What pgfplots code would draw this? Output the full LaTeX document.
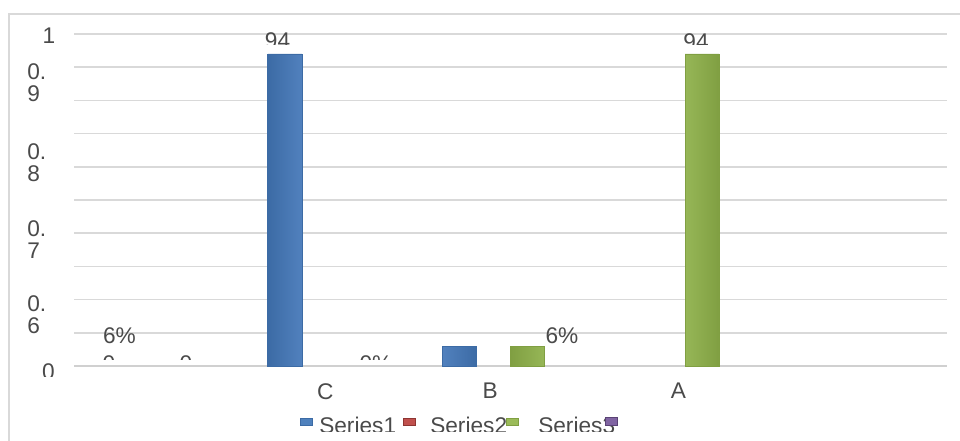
\documentclass[border=0pt]{standalone}
\usepackage{pgfplots}
\pgfplotsset{compat=1.18}
\usepackage{fontspec}
\setmainfont{Liberation Sans}
\definecolor{txt}{HTML}{4A4A4A}
\definecolor{gridc}{HTML}{D9D9D9}
\definecolor{axc}{HTML}{D0D0D0}
\definecolor{sA}{HTML}{4F81BD}
\definecolor{sAl}{HTML}{6393D2}
\definecolor{sAd}{HTML}{3C6BA5}
\definecolor{sB}{HTML}{C0504D}
\definecolor{sBd}{HTML}{8E3532}
\definecolor{sC}{HTML}{9BBB59}
\definecolor{sCl}{HTML}{A9CA68}
\definecolor{sCd}{HTML}{809F42}
\definecolor{sD}{HTML}{8064A2}
\definecolor{sDd}{HTML}{5A4375}
\pgfdeclarehorizontalshading{barblue}{100bp}{color(0bp)=(sAd); color(25bp)=(sAd); color(40bp)=(sAl); color(60bp)=(sAl); color(75bp)=(sAd); color(100bp)=(sAd)}
\pgfdeclarehorizontalshading{bargreen}{100bp}{color(0bp)=(sCd); color(25bp)=(sCd); color(40bp)=(sCl); color(60bp)=(sCl); color(75bp)=(sCd); color(100bp)=(sCd)}
\begin{document}
\begin{tikzpicture}[x=0.75pt,y=0.75pt,font=\fontsize{17}{20}\selectfont,text=txt]
\path[use as bounding box] (0,0) rectangle (960,441);
\draw[color=gridc, line width=1.1pt] (9,-5) -- (9,427) -- (970,427);
\begin{axis}[
  at={(55.5pt,56.25pt)}, anchor=south west,
  scale only axis, width=654.75pt, height=249pt,
  xmin=-0.5, xmax=4.5, ymin=0, ymax=1,
  axis line style={draw=none},
  ytick={0,0.1,0.2,0.3,0.4,0.5,0.6,0.7,0.8,0.9,1},
  yticklabels={},
  ymajorgrids=true,
  grid style={color=gridc, line width=1.1pt},
  extra y ticks={0}, extra y tick labels={},
  extra y tick style={grid style={color=axc, line width=1.6pt}},
  xtick={0.940,1.883,2.962}, xticklabels={C,B,A},
  xmajorgrids=false,
  major tick length=0pt,
  xticklabel style={anchor=north, inner sep=0pt, yshift=-12.75pt, text=txt, font=\fontsize{17}{20}\selectfont},
  ybar, bar width=0.195,
  clip=false,
]
\addplot[bar shift=-0.2925, draw=sAd, line width=0.5pt, shading=barblue, restrict y to domain=0.0001:2]
  table[x=x,y=y] {x y
0 0
1 0.94
2 0.06
3 0
4 0
};
\addplot[bar shift=-0.0975, draw=sBd, fill=sB, restrict y to domain=0.0001:2]
  table[x=x,y=y] {x y
0 0
1 0
2 0
3 0
4 0
};
\addplot[bar shift=0.0975, draw=sCd, line width=0.5pt, shading=bargreen, restrict y to domain=0.0001:2]
  table[x=x,y=y] {x y
0 0
1 0
2 0.06
3 0.94
4 0
};
\addplot[bar shift=0.2925, draw=sDd, fill=sD, restrict y to domain=0.0001:2]
  table[x=x,y=y] {x y
0 0
1 0
2 0
3 0
4 0
};
\end{axis}
% y axis labels
\node[anchor=center, inner sep=0pt] at (49,405) {1};
\begin{scope}[every node/.style={anchor=north west, inner sep=0pt, align=left, font=\fontsize{17}{16.5}\selectfont}]
\node at (27,378) {0.\\9};
\node at (27,298) {0.\\8};
\node at (27,221) {0.\\7};
\node at (27,146) {0.\\6};
\end{scope}
\begin{scope}
\clip (0,64) rectangle (120,100);
\node[anchor=north, inner sep=0pt] at (48.5,78) {0};
\end{scope}
% data labels
\begin{scope}
\clip (0,396) rectangle (960,441);
\node[anchor=north, inner sep=0pt] at (277.5,409) {94};
\node[anchor=north, inner sep=0pt] at (696,408) {94};
\end{scope}
\node[anchor=north, inner sep=0pt] at (119.5,114) {6\%};
\node[anchor=north, inner sep=0pt] at (562,114) {6\%};
\begin{scope}
\clip (0,81) rectangle (960,120);
\node[anchor=north, inner sep=0pt] at (109,86) {0};
\node[anchor=north, inner sep=0pt] at (186,86) {0};
\node[anchor=north, inner sep=0pt] at (376,86) {0\%};
\end{scope}
% legend
\begin{scope}
\clip (0,9) rectangle (960,60);
\node[anchor=base west, inner sep=0pt] at (319,7) {Series1};
\node[anchor=base west, inner sep=0pt] at (430,7) {Series2};
\node[anchor=base west, inner sep=0pt] at (538,7) {Series3};
\end{scope}
\fill[sA, draw=sAd, line width=0.3pt] (300,16) rectangle (312,23);
\fill[sB, draw=sBd, line width=0.3pt] (403,16) rectangle (415,23);
\fill[sC, draw=sCd, line width=0.3pt] (506,16) rectangle (518,23);
\fill[sD, draw=sDd, line width=0.3pt] (605,16) rectangle (617,24);
\end{tikzpicture}
\end{document}
